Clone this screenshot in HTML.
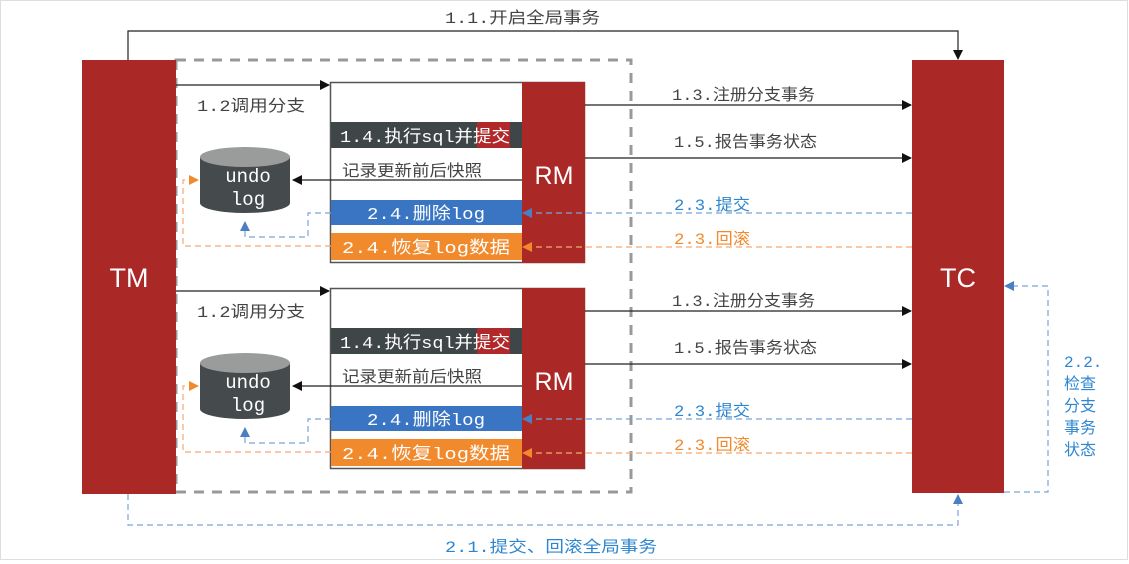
<!DOCTYPE html>
<html><head><meta charset="utf-8"><style>
html,body{margin:0;padding:0;background:#fff;}
svg{display:block;font-family:"Liberation Mono","Noto Sans CJK SC",monospace;}
</style></head><body>
<svg width="1129" height="564" viewBox="0 0 1129 564" xmlns="http://www.w3.org/2000/svg">
<defs>
<marker id="ak" markerWidth="10" markerHeight="10" refX="9" refY="5" orient="auto" markerUnits="userSpaceOnUse"><path d="M0,0 L10,5 L0,10z" fill="#111"/></marker>
<marker id="ab" markerWidth="10" markerHeight="10" refX="9" refY="5" orient="auto" markerUnits="userSpaceOnUse"><path d="M0,0 L10,5 L0,10z" fill="#4a7fc4"/></marker>
<marker id="ao" markerWidth="10" markerHeight="10" refX="9" refY="5" orient="auto" markerUnits="userSpaceOnUse"><path d="M0,0 L10,5 L0,10z" fill="#f08a2c"/></marker>
<g id="grp">
  <rect x="330.5" y="82.5" width="254" height="180" fill="#fff" stroke="#555" stroke-width="1.5"/>
  <line x1="176" y1="85" x2="329" y2="85" stroke="#222" stroke-width="1.2" marker-end="url(#ak)"/>
  <text x="197" y="111" font-size="16" fill="#444" textLength="108" lengthAdjust="spacingAndGlyphs">1.2调用分支</text>
  <rect x="331" y="122" width="191" height="26" fill="#3f4647"/>
  <rect x="477" y="122" width="33" height="26" fill="#b0282a"/>
  <text x="340" y="142" font-size="17" fill="#fff" textLength="170" lengthAdjust="spacingAndGlyphs">1.4.执行sql并提交</text>
  <text x="342" y="176" font-size="16" fill="#444" textLength="140" lengthAdjust="spacingAndGlyphs">记录更新前后快照</text>
  <line x1="522" y1="180" x2="293" y2="180" stroke="#222" stroke-width="1.2" marker-end="url(#ak)"/>
  <path d="M200,157 L200,203 A45,10 0 0 0 290,203 L290,157 Z" fill="#454b4c"/>
  <ellipse cx="245" cy="157" rx="45" ry="10" fill="#9a9c9c"/>
  <text x="248" y="182" font-size="19" fill="#fff" text-anchor="middle">undo</text>
  <text x="248" y="205" font-size="19" fill="#fff" text-anchor="middle">log</text>
  <rect x="331" y="200" width="191" height="25" fill="#3a75c4"/>
  <text x="367" y="219" font-size="17" fill="#fff" textLength="118" lengthAdjust="spacingAndGlyphs">2.4.删除log</text>
  <rect x="331" y="233" width="191" height="27" fill="#f08a2c"/>
  <text x="342" y="253" font-size="17" fill="#fff" textLength="168" lengthAdjust="spacingAndGlyphs">2.4.恢复log数据</text>
  <path d="M331,213 L308,213 L308,237 L245,237 L245,222" fill="none" stroke="#7ba3d8" stroke-width="1.2" stroke-dasharray="6,4" marker-end="url(#ab)"/>
  <path d="M331,246 L183,246 L183,180 L198,180" fill="none" stroke="#f5a870" stroke-width="1.2" stroke-dasharray="6,4" marker-end="url(#ao)"/>
  <rect x="522" y="82" width="63" height="181" fill="#aa2826"/>
  <text x="554" y="184" font-size="25" fill="#fff" text-anchor="middle" font-family="Liberation Sans,sans-serif">RM</text>
  <line x1="585" y1="105" x2="911" y2="105" stroke="#222" stroke-width="1.2" marker-end="url(#ak)"/>
  <text x="672" y="100" font-size="16" fill="#444" textLength="143" lengthAdjust="spacingAndGlyphs">1.3.注册分支事务</text>
  <line x1="585" y1="158" x2="911" y2="158" stroke="#222" stroke-width="1.2" marker-end="url(#ak)"/>
  <text x="674" y="147" font-size="16" fill="#444" textLength="143" lengthAdjust="spacingAndGlyphs">1.5.报告事务状态</text>
  <line x1="912" y1="213" x2="523" y2="213" stroke="#7ba3d8" stroke-width="1.2" stroke-dasharray="6,4" marker-end="url(#ab)"/>
  <text x="674" y="210" font-size="16" fill="#2e86d0" textLength="76" lengthAdjust="spacingAndGlyphs">2.3.提交</text>
  <line x1="912" y1="247" x2="523" y2="247" stroke="#f5a870" stroke-width="1.2" stroke-dasharray="6,4" marker-end="url(#ao)"/>
  <text x="674" y="244" font-size="16" fill="#f08a2c" textLength="76" lengthAdjust="spacingAndGlyphs">2.3.回滚</text>
</g>
</defs>
<rect x="0.5" y="0.5" width="1127" height="559" fill="#fff" stroke="#ddd"/>
<rect x="176" y="60" width="455" height="432" fill="none" stroke="#999" stroke-width="3" stroke-dasharray="10,8"/>
<use href="#grp"/>
<use href="#grp" transform="translate(0,206)"/>
<path d="M128,60 L128,31 L958,31 L958,59" fill="none" stroke="#222" stroke-width="1.2" marker-end="url(#ak)"/>
<text x="445" y="23" font-size="16" fill="#444" textLength="155" lengthAdjust="spacingAndGlyphs">1.1.开启全局事务</text>
<rect x="82" y="60" width="94" height="434" fill="#aa2826"/>
<text x="129" y="287" font-size="27" fill="#fff" text-anchor="middle" font-family="Liberation Sans,sans-serif">TM</text>
<rect x="912" y="60" width="92" height="433" fill="#aa2826"/>
<text x="958" y="287" font-size="27" fill="#fff" text-anchor="middle" font-family="Liberation Sans,sans-serif">TC</text>
<path d="M128,494 L128,525 L958,525 L958,495" fill="none" stroke="#7ba3d8" stroke-width="1.2" stroke-dasharray="6,4" marker-end="url(#ab)"/>
<text x="445" y="552" font-size="16" fill="#2e86d0" textLength="212" lengthAdjust="spacingAndGlyphs">2.1.提交、回滚全局事务</text>
<path d="M1004,492 L1048,492 L1048,286 L1005,286" fill="none" stroke="#7ba3d8" stroke-width="1.2" stroke-dasharray="6,4" marker-end="url(#ab)"/>
<g font-size="16" fill="#2e86d0">
<text x="1064" y="367">2.2.</text>
<text x="1064" y="389">检查</text>
<text x="1064" y="411">分支</text>
<text x="1064" y="433">事务</text>
<text x="1064" y="455">状态</text>
</g>
</svg>
</body></html>
